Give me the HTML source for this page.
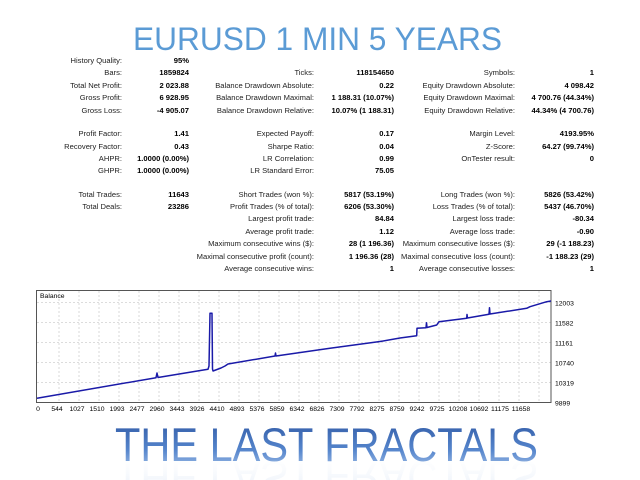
<!DOCTYPE html>
<html><head><meta charset="utf-8"><style>
html,body{margin:0;padding:0;background:#fff;width:640px;height:480px;overflow:hidden}
svg{display:block}
.l{font-family:"Liberation Sans",sans-serif;font-size:7.6px;fill:#222;text-anchor:end}
.v{font-family:"Liberation Sans",sans-serif;font-size:7.6px;fill:#000;font-weight:bold;text-anchor:end}
.ax{font-family:"Liberation Sans",sans-serif;font-size:6.8px;fill:#000}
</style></head><body>
<svg width="640" height="480" viewBox="0 0 640 480" xmlns="http://www.w3.org/2000/svg">
<defs>
<linearGradient id="g" x1="0" y1="0" x2="0" y2="1">
<stop offset="0" stop-color="#2f58a3"/><stop offset="0.6" stop-color="#5585cc"/><stop offset="1" stop-color="#a3c0e8"/>
</linearGradient>
<linearGradient id="r" x1="0" y1="0" x2="0" y2="1">
<stop offset="0" stop-color="#9dbbe6" stop-opacity="0.7"/><stop offset="1" stop-color="#fff" stop-opacity="0"/>
</linearGradient>
</defs>
<text x="133" y="50" font-family="Liberation Sans,sans-serif" font-size="32" fill="#5b9bd5" textLength="369" lengthAdjust="spacingAndGlyphs">EURUSD 1 MIN 5 YEARS</text>

<g>
<text class="l" x="122" y="63">History Quality:</text><text class="v" x="189" y="63">95%</text>
<text class="l" x="122" y="75">Bars:</text><text class="v" x="189" y="75">1859824</text>
<text class="l" x="122" y="88">Total Net Profit:</text><text class="v" x="189" y="88">2 023.88</text>
<text class="l" x="122" y="100">Gross Profit:</text><text class="v" x="189" y="100">6 928.95</text>
<text class="l" x="122" y="113">Gross Loss:</text><text class="v" x="189" y="113">-4 905.07</text>
<text class="l" x="122" y="136">Profit Factor:</text><text class="v" x="189" y="136">1.41</text>
<text class="l" x="122" y="149">Recovery Factor:</text><text class="v" x="189" y="149">0.43</text>
<text class="l" x="122" y="161">AHPR:</text><text class="v" x="189" y="161">1.0000 (0.00%)</text>
<text class="l" x="122" y="173">GHPR:</text><text class="v" x="189" y="173">1.0000 (0.00%)</text>
<text class="l" x="122" y="197">Total Trades:</text><text class="v" x="189" y="197">11643</text>
<text class="l" x="122" y="209">Total Deals:</text><text class="v" x="189" y="209">23286</text>

<text class="l" x="314" y="75">Ticks:</text><text class="v" x="394" y="75">118154650</text>
<text class="l" x="314" y="88">Balance Drawdown Absolute:</text><text class="v" x="394" y="88">0.22</text>
<text class="l" x="314" y="100">Balance Drawdown Maximal:</text><text class="v" x="394" y="100">1 188.31 (10.07%)</text>
<text class="l" x="314" y="113">Balance Drawdown Relative:</text><text class="v" x="394" y="113">10.07% (1 188.31)</text>
<text class="l" x="314" y="136">Expected Payoff:</text><text class="v" x="394" y="136">0.17</text>
<text class="l" x="314" y="149">Sharpe Ratio:</text><text class="v" x="394" y="149">0.04</text>
<text class="l" x="314" y="161">LR Correlation:</text><text class="v" x="394" y="161">0.99</text>
<text class="l" x="314" y="173">LR Standard Error:</text><text class="v" x="394" y="173">75.05</text>
<text class="l" x="314" y="197">Short Trades (won %):</text><text class="v" x="394" y="197">5817 (53.19%)</text>
<text class="l" x="314" y="209">Profit Trades (% of total):</text><text class="v" x="394" y="209">6206 (53.30%)</text>
<text class="l" x="314" y="221">Largest profit trade:</text><text class="v" x="394" y="221">84.84</text>
<text class="l" x="314" y="234">Average profit trade:</text><text class="v" x="394" y="234">1.12</text>
<text class="l" x="314" y="246">Maximum consecutive wins ($):</text><text class="v" x="394" y="246">28 (1 196.36)</text>
<text class="l" x="314" y="259">Maximal consecutive profit (count):</text><text class="v" x="394" y="259">1 196.36 (28)</text>
<text class="l" x="314" y="271">Average consecutive wins:</text><text class="v" x="394" y="271">1</text>

<text class="l" x="515" y="75">Symbols:</text><text class="v" x="594" y="75">1</text>
<text class="l" x="515" y="88">Equity Drawdown Absolute:</text><text class="v" x="594" y="88">4 098.42</text>
<text class="l" x="515" y="100">Equity Drawdown Maximal:</text><text class="v" x="594" y="100">4 700.76 (44.34%)</text>
<text class="l" x="515" y="113">Equity Drawdown Relative:</text><text class="v" x="594" y="113">44.34% (4 700.76)</text>
<text class="l" x="515" y="136">Margin Level:</text><text class="v" x="594" y="136">4193.95%</text>
<text class="l" x="515" y="149">Z-Score:</text><text class="v" x="594" y="149">64.27 (99.74%)</text>
<text class="l" x="515" y="161">OnTester result:</text><text class="v" x="594" y="161">0</text>
<text class="l" x="515" y="197">Long Trades (won %):</text><text class="v" x="594" y="197">5826 (53.42%)</text>
<text class="l" x="515" y="209">Loss Trades (% of total):</text><text class="v" x="594" y="209">5437 (46.70%)</text>
<text class="l" x="515" y="221">Largest loss trade:</text><text class="v" x="594" y="221">-80.34</text>
<text class="l" x="515" y="234">Average loss trade:</text><text class="v" x="594" y="234">-0.90</text>
<text class="l" x="515" y="246">Maximum consecutive losses ($):</text><text class="v" x="594" y="246">29 (-1 188.23)</text>
<text class="l" x="515" y="259">Maximal consecutive loss (count):</text><text class="v" x="594" y="259">-1 188.23 (29)</text>
<text class="l" x="515" y="271">Average consecutive losses:</text><text class="v" x="594" y="271">1</text>
</g>

<g stroke="#c8c8c8" stroke-width="0.7" stroke-dasharray="2,2">
<line x1="37" y1="302.7" x2="551" y2="302.7"/><line x1="37" y1="322.7" x2="551" y2="322.7"/>
<line x1="37" y1="342.7" x2="551" y2="342.7"/><line x1="37" y1="362.7" x2="551" y2="362.7"/>
<line x1="37" y1="382.7" x2="551" y2="382.7"/>
<line x1="59" y1="291" x2="59" y2="402"/><line x1="79" y1="291" x2="79" y2="402"/><line x1="99" y1="291" x2="99" y2="402"/>
<line x1="119" y1="291" x2="119" y2="402"/><line x1="139" y1="291" x2="139" y2="402"/><line x1="159" y1="291" x2="159" y2="402"/>
<line x1="179" y1="291" x2="179" y2="402"/><line x1="199" y1="291" x2="199" y2="402"/><line x1="219" y1="291" x2="219" y2="402"/>
<line x1="239" y1="291" x2="239" y2="402"/><line x1="259" y1="291" x2="259" y2="402"/><line x1="279" y1="291" x2="279" y2="402"/>
<line x1="299" y1="291" x2="299" y2="402"/><line x1="319" y1="291" x2="319" y2="402"/><line x1="339" y1="291" x2="339" y2="402"/>
<line x1="359" y1="291" x2="359" y2="402"/><line x1="379" y1="291" x2="379" y2="402"/><line x1="399" y1="291" x2="399" y2="402"/>
<line x1="419" y1="291" x2="419" y2="402"/><line x1="439" y1="291" x2="439" y2="402"/><line x1="459" y1="291" x2="459" y2="402"/>
<line x1="479" y1="291" x2="479" y2="402"/><line x1="499" y1="291" x2="499" y2="402"/><line x1="519" y1="291" x2="519" y2="402"/>
<line x1="539" y1="291" x2="539" y2="402"/>
</g>
<rect x="36.5" y="290.5" width="514.5" height="112" fill="none" stroke="#555" stroke-width="1"/>
<text x="40" y="298" font-family="Liberation Sans,sans-serif" font-size="6.8" fill="#000">Balance</text>
<polyline fill="none" stroke="#1a1aa8" stroke-width="1.5" stroke-linejoin="round" points="37,398.3 156,377.7 157,373 158,377.5 208,369.3 209,366 210,313.3 212,313.3 212.5,369 213,371 221,368 225,366 228,364 275,356 275.5,353 276,356 330,348.3 380,341.5 400,338 416.7,335.7 417,328.3 426,327.7 426.5,322.7 427,327.5 436.7,325 439,321.7 466.7,318.3 467,314.5 467.5,318 489,314.3 489.5,307.7 490,314 526.7,308.3 530,306.7 546.7,301.7 551,301"/>
<g class="ax">
<text x="555" y="305.5">12003</text><text x="555" y="325.5">11582</text><text x="555" y="345.5">11161</text>
<text x="555" y="365.5">10740</text><text x="555" y="385.5">10319</text><text x="555" y="405.5">9899</text>
</g>
<g class="ax" text-anchor="middle">
<text x="38" y="411">0</text><text x="57" y="411">544</text><text x="77" y="411">1027</text><text x="97" y="411">1510</text>
<text x="117" y="411">1993</text><text x="137" y="411">2477</text><text x="157" y="411">2960</text><text x="177" y="411">3443</text>
<text x="197" y="411">3926</text><text x="217" y="411">4410</text><text x="237" y="411">4893</text><text x="257" y="411">5376</text>
<text x="277" y="411">5859</text><text x="297" y="411">6342</text><text x="317" y="411">6826</text><text x="337" y="411">7309</text>
<text x="357" y="411">7792</text><text x="377" y="411">8275</text><text x="397" y="411">8759</text><text x="417" y="411">9242</text>
<text x="437" y="411">9725</text><text x="458" y="411">10208</text><text x="479" y="411">10692</text><text x="500" y="411">11175</text>
<text x="521" y="411">11658</text>
</g>

<text x="115" y="461" font-family="Liberation Sans,sans-serif" font-size="47" fill="url(#g)" textLength="423" lengthAdjust="spacingAndGlyphs">THE LAST FRACTALS</text>
<text x="115" y="461" transform="translate(0,922) scale(1,-1)" font-family="Liberation Sans,sans-serif" font-size="47" fill="url(#r)" textLength="423" lengthAdjust="spacingAndGlyphs" opacity="0.6">THE LAST FRACTALS</text>
</svg>
</body></html>
